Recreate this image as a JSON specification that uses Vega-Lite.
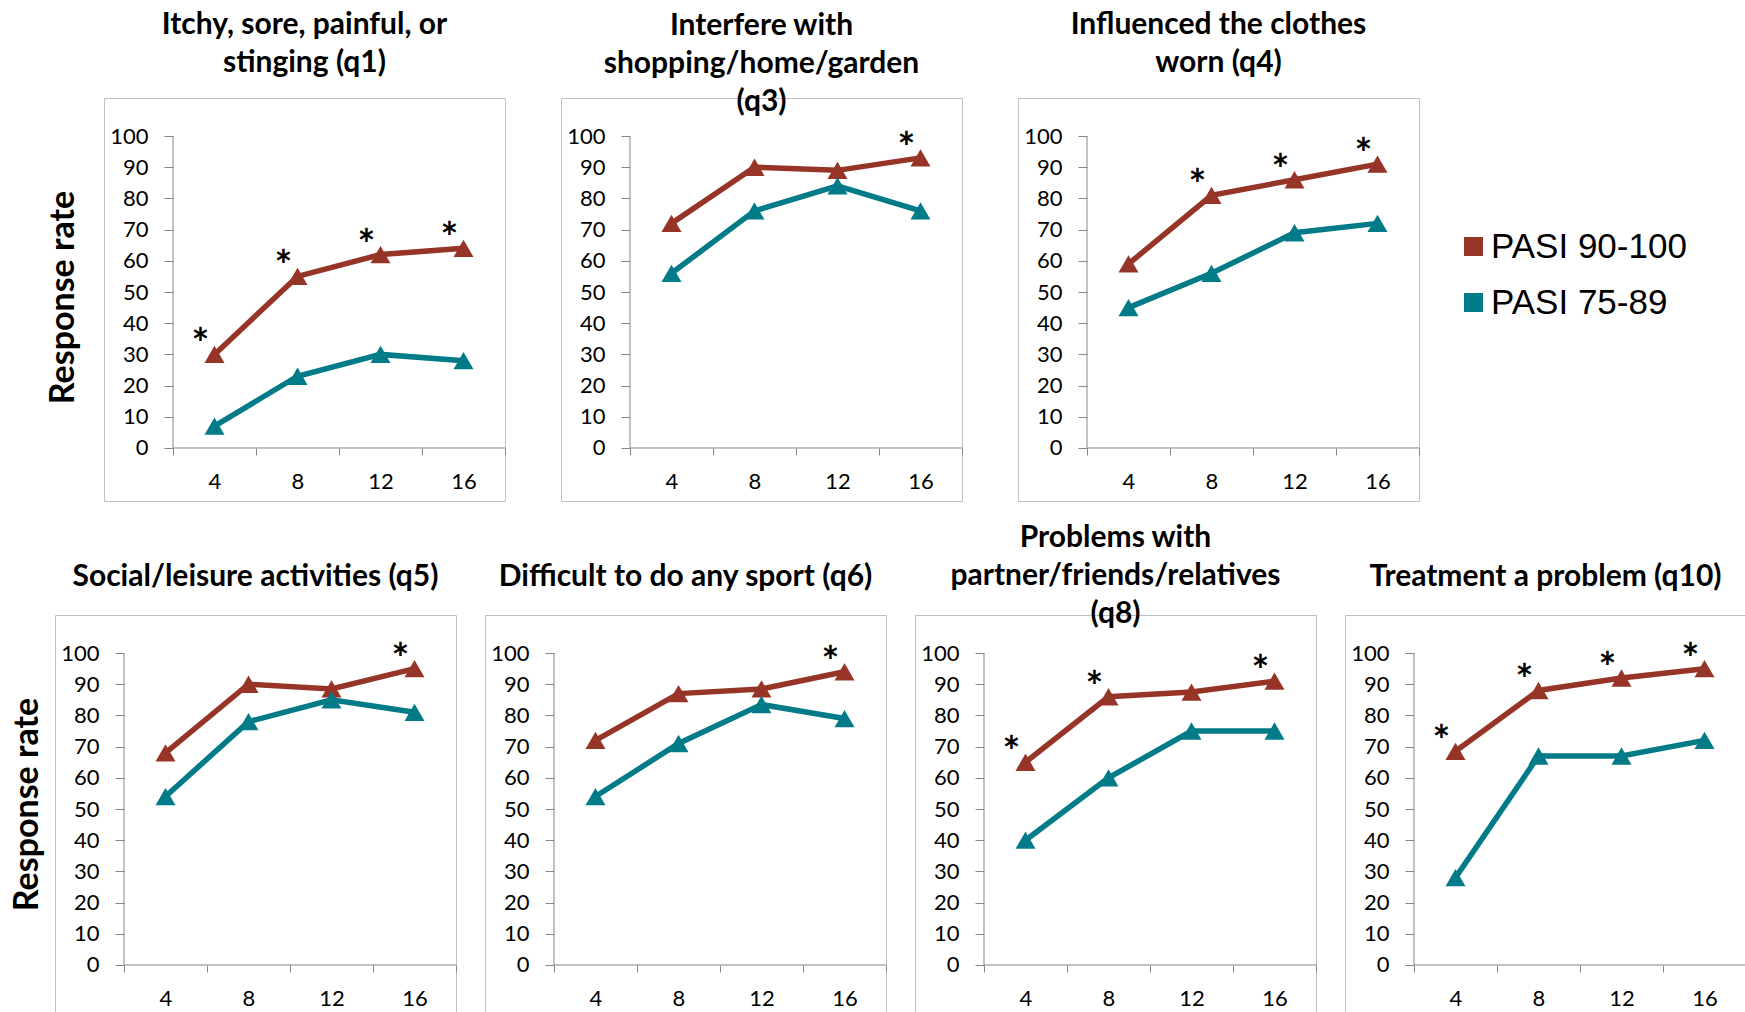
{
  "$schema": "https://vega.github.io/schema/vega-lite/v6.json",
  "padding": {"left": 0, "top": 9, "right": 0, "bottom": 0},
  "autosize": {"type": "pad"},
  "background": "white",
  "config": {
    "view": {"stroke": "#BFBFBF", "strokeWidth": 1},
    "axis": {"domain": false, "grid": false, "tickColor": "#868686", "tickWidth": 1, "labelFont": "Lato", "labelFontSize": 22, "labelColor": "black", "titleFont": "Lato", "titleFontSize": 34, "titleFontWeight": "bold", "titleColor": "black"},
    "axisX": {"offset": -53, "tickSize": 7, "labelPadding": 16},
    "axisY": {"offset": -69, "tickSize": 9, "labelPadding": 16, "titlePadding": 29},
    "title": {"font": "Lato", "fontSize": 30, "fontWeight": "bold", "color": "black", "lineHeight": 38, "frame": "group", "anchor": "middle", "baseline": "alphabetic"}
  },
  "datasets": {
    "d": [
      {"q": "q1", "week": 4, "group": "PASI 90-100", "rate": 30, "sig": true},
      {"q": "q1", "week": 8, "group": "PASI 90-100", "rate": 55, "sig": true},
      {"q": "q1", "week": 12, "group": "PASI 90-100", "rate": 62, "sig": true},
      {"q": "q1", "week": 16, "group": "PASI 90-100", "rate": 64, "sig": true},
      {"q": "q1", "week": 4, "group": "PASI 75-89", "rate": 7, "sig": false},
      {"q": "q1", "week": 8, "group": "PASI 75-89", "rate": 23, "sig": false},
      {"q": "q1", "week": 12, "group": "PASI 75-89", "rate": 30, "sig": false},
      {"q": "q1", "week": 16, "group": "PASI 75-89", "rate": 28, "sig": false},
      {"q": "q3", "week": 4, "group": "PASI 90-100", "rate": 72, "sig": false},
      {"q": "q3", "week": 8, "group": "PASI 90-100", "rate": 90, "sig": false},
      {"q": "q3", "week": 12, "group": "PASI 90-100", "rate": 89, "sig": false},
      {"q": "q3", "week": 16, "group": "PASI 90-100", "rate": 93, "sig": true},
      {"q": "q3", "week": 4, "group": "PASI 75-89", "rate": 56, "sig": false},
      {"q": "q3", "week": 8, "group": "PASI 75-89", "rate": 76, "sig": false},
      {"q": "q3", "week": 12, "group": "PASI 75-89", "rate": 84, "sig": false},
      {"q": "q3", "week": 16, "group": "PASI 75-89", "rate": 76, "sig": false},
      {"q": "q4", "week": 4, "group": "PASI 90-100", "rate": 59, "sig": false},
      {"q": "q4", "week": 8, "group": "PASI 90-100", "rate": 81, "sig": true},
      {"q": "q4", "week": 12, "group": "PASI 90-100", "rate": 86, "sig": true},
      {"q": "q4", "week": 16, "group": "PASI 90-100", "rate": 91, "sig": true},
      {"q": "q4", "week": 4, "group": "PASI 75-89", "rate": 45, "sig": false},
      {"q": "q4", "week": 8, "group": "PASI 75-89", "rate": 56, "sig": false},
      {"q": "q4", "week": 12, "group": "PASI 75-89", "rate": 69, "sig": false},
      {"q": "q4", "week": 16, "group": "PASI 75-89", "rate": 72, "sig": false},
      {"q": "q5", "week": 4, "group": "PASI 90-100", "rate": 68, "sig": false},
      {"q": "q5", "week": 8, "group": "PASI 90-100", "rate": 90, "sig": false},
      {"q": "q5", "week": 12, "group": "PASI 90-100", "rate": 88.5, "sig": false},
      {"q": "q5", "week": 16, "group": "PASI 90-100", "rate": 95, "sig": true},
      {"q": "q5", "week": 4, "group": "PASI 75-89", "rate": 54, "sig": false},
      {"q": "q5", "week": 8, "group": "PASI 75-89", "rate": 78, "sig": false},
      {"q": "q5", "week": 12, "group": "PASI 75-89", "rate": 85, "sig": false},
      {"q": "q5", "week": 16, "group": "PASI 75-89", "rate": 81, "sig": false},
      {"q": "q6", "week": 4, "group": "PASI 90-100", "rate": 72, "sig": false},
      {"q": "q6", "week": 8, "group": "PASI 90-100", "rate": 87, "sig": false},
      {"q": "q6", "week": 12, "group": "PASI 90-100", "rate": 88.5, "sig": false},
      {"q": "q6", "week": 16, "group": "PASI 90-100", "rate": 94, "sig": true},
      {"q": "q6", "week": 4, "group": "PASI 75-89", "rate": 54, "sig": false},
      {"q": "q6", "week": 8, "group": "PASI 75-89", "rate": 71, "sig": false},
      {"q": "q6", "week": 12, "group": "PASI 75-89", "rate": 83.5, "sig": false},
      {"q": "q6", "week": 16, "group": "PASI 75-89", "rate": 79, "sig": false},
      {"q": "q8", "week": 4, "group": "PASI 90-100", "rate": 65, "sig": true},
      {"q": "q8", "week": 8, "group": "PASI 90-100", "rate": 86, "sig": true},
      {"q": "q8", "week": 12, "group": "PASI 90-100", "rate": 87.5, "sig": false},
      {"q": "q8", "week": 16, "group": "PASI 90-100", "rate": 91, "sig": true},
      {"q": "q8", "week": 4, "group": "PASI 75-89", "rate": 40, "sig": false},
      {"q": "q8", "week": 8, "group": "PASI 75-89", "rate": 60, "sig": false},
      {"q": "q8", "week": 12, "group": "PASI 75-89", "rate": 75, "sig": false},
      {"q": "q8", "week": 16, "group": "PASI 75-89", "rate": 75, "sig": false},
      {"q": "q10", "week": 4, "group": "PASI 90-100", "rate": 68.5, "sig": true},
      {"q": "q10", "week": 8, "group": "PASI 90-100", "rate": 88, "sig": true},
      {"q": "q10", "week": 12, "group": "PASI 90-100", "rate": 92, "sig": true},
      {"q": "q10", "week": 16, "group": "PASI 90-100", "rate": 95, "sig": true},
      {"q": "q10", "week": 4, "group": "PASI 75-89", "rate": 28, "sig": false},
      {"q": "q10", "week": 8, "group": "PASI 75-89", "rate": 67, "sig": false},
      {"q": "q10", "week": 12, "group": "PASI 75-89", "rate": 67, "sig": false},
      {"q": "q10", "week": 16, "group": "PASI 75-89", "rate": 72, "sig": false}
    ]
  },
  "resolve": {"legend": {"fill": "independent", "stroke": "independent"}},
  "spacing": 20,
  "vconcat": [
    {
      "bounds": "flush",
      "spacing": 102,
      "resolve": {"legend": {"fill": "independent", "stroke": "independent"}},
      "hconcat": [
        {"width": 1, "height": 403, "view": {"stroke": "white"}, "data": {"values": []}, "mark": "point", "encoding": {}},
        {
          "bounds": "flush",
          "spacing": 56,
          "resolve": {"legend": {"fill": "independent", "stroke": "independent"}},
          "hconcat": [
            {
              "width": 401, "height": 403,
              "title": {"text": ["Itchy, sore, painful, or", "stinging (q1)"], "offset": 20},
              "layer": [
                {"data": {"values": [{}]}, "mark": {"type": "rule", "color": "#868686", "strokeWidth": 1}, "encoding": {"x": {"datum": 2, "type": "quantitative", "scale": {"domain": [-1.325, 18], "nice": false, "zero": false}}, "y": {"datum": 0, "type": "quantitative", "scale": {"domain": [-17, 112.2], "nice": false, "zero": false}}, "y2": {"datum": 100}}},
                {"data": {"values": [{}]}, "mark": {"type": "rule", "color": "#868686", "strokeWidth": 1}, "encoding": {"x": {"datum": 2, "type": "quantitative"}, "x2": {"datum": 18}, "y": {"datum": 0, "type": "quantitative"}}},
                {
                  "data": {"name": "d"},
                  "transform": [{"filter": "datum.q == 'q1'"}],
                  "encoding": {
                    "x": {"field": "week", "type": "quantitative", "axis": {"values": [2, 4, 6, 8, 10, 12, 14, 16, 18], "labelExpr": "datum.value % 4 == 0 ? datum.label : ''", "tickOpacity": {"condition": {"test": "datum.value % 4 == 0", "value": 0}, "value": 1}, "title": null, "labelOverlap": false, "labelFlush": false, "labelBound": false}},
                    "y": {"field": "rate", "type": "quantitative", "axis": {"values": [0, 10, 20, 30, 40, 50, 60, 70, 80, 90, 100], "title": "Response rate", "titleY": 199, "labelOverlap": false}}
                  },
                  "layer": [
                    {"mark": {"type": "line", "strokeWidth": 5.5}, "encoding": {"stroke": {"field": "group", "type": "nominal", "scale": {"domain": ["PASI 90-100", "PASI 75-89"], "range": ["#963527", "#007B87"]}, "legend": null}}},
                    {"mark": {"type": "point", "shape": "triangle-up", "filled": true, "size": 400, "opacity": 1}, "encoding": {"fill": {"field": "group", "type": "nominal", "scale": {"domain": ["PASI 90-100", "PASI 75-89"], "range": ["#963527", "#007B87"]}, "legend": null}}},
                    {"transform": [{"filter": "datum.sig"}], "mark": {"type": "text", "text": "*", "dx": -14, "dy": 5, "fontSize": 42, "fontWeight": "bold", "font": "Lato", "color": "black", "baseline": "alphabetic"}}
                  ]
                }
              ]
            },
            {
              "width": 401, "height": 403,
              "title": {"text": ["Interfere with", "shopping/home/garden", "(q3)"], "offset": -19},
              "layer": [
                {"data": {"values": [{}]}, "mark": {"type": "rule", "color": "#868686", "strokeWidth": 1}, "encoding": {"x": {"datum": 2, "type": "quantitative", "scale": {"domain": [-1.325, 18], "nice": false, "zero": false}}, "y": {"datum": 0, "type": "quantitative", "scale": {"domain": [-17, 112.2], "nice": false, "zero": false}}, "y2": {"datum": 100}}},
                {"data": {"values": [{}]}, "mark": {"type": "rule", "color": "#868686", "strokeWidth": 1}, "encoding": {"x": {"datum": 2, "type": "quantitative"}, "x2": {"datum": 18}, "y": {"datum": 0, "type": "quantitative"}}},
                {
                  "data": {"name": "d"},
                  "transform": [{"filter": "datum.q == 'q3'"}],
                  "encoding": {
                    "x": {"field": "week", "type": "quantitative", "axis": {"values": [2, 4, 6, 8, 10, 12, 14, 16, 18], "labelExpr": "datum.value % 4 == 0 ? datum.label : ''", "tickOpacity": {"condition": {"test": "datum.value % 4 == 0", "value": 0}, "value": 1}, "title": null, "labelOverlap": false, "labelFlush": false, "labelBound": false}},
                    "y": {"field": "rate", "type": "quantitative", "axis": {"values": [0, 10, 20, 30, 40, 50, 60, 70, 80, 90, 100], "title": null, "labelOverlap": false}}
                  },
                  "layer": [
                    {"mark": {"type": "line", "strokeWidth": 5.5}, "encoding": {"stroke": {"field": "group", "type": "nominal", "scale": {"domain": ["PASI 90-100", "PASI 75-89"], "range": ["#963527", "#007B87"]}, "legend": null}}},
                    {"mark": {"type": "point", "shape": "triangle-up", "filled": true, "size": 400, "opacity": 1}, "encoding": {"fill": {"field": "group", "type": "nominal", "scale": {"domain": ["PASI 90-100", "PASI 75-89"], "range": ["#963527", "#007B87"]}, "legend": null}}},
                    {"transform": [{"filter": "datum.sig"}], "mark": {"type": "text", "text": "*", "dx": -14, "dy": 5, "fontSize": 42, "fontWeight": "bold", "font": "Lato", "color": "black", "baseline": "alphabetic"}}
                  ]
                }
              ]
            },
            {
              "width": 401, "height": 403,
              "title": {"text": ["Influenced the clothes", "worn (q4)"], "offset": 20},
              "layer": [
                {"data": {"values": [{}]}, "mark": {"type": "rule", "color": "#868686", "strokeWidth": 1}, "encoding": {"x": {"datum": 2, "type": "quantitative", "scale": {"domain": [-1.325, 18], "nice": false, "zero": false}}, "y": {"datum": 0, "type": "quantitative", "scale": {"domain": [-17, 112.2], "nice": false, "zero": false}}, "y2": {"datum": 100}}},
                {"data": {"values": [{}]}, "mark": {"type": "rule", "color": "#868686", "strokeWidth": 1}, "encoding": {"x": {"datum": 2, "type": "quantitative"}, "x2": {"datum": 18}, "y": {"datum": 0, "type": "quantitative"}}},
                {
                  "data": {"name": "d"},
                  "transform": [{"filter": "datum.q == 'q4'"}],
                  "encoding": {
                    "x": {"field": "week", "type": "quantitative", "axis": {"values": [2, 4, 6, 8, 10, 12, 14, 16, 18], "labelExpr": "datum.value % 4 == 0 ? datum.label : ''", "tickOpacity": {"condition": {"test": "datum.value % 4 == 0", "value": 0}, "value": 1}, "title": null, "labelOverlap": false, "labelFlush": false, "labelBound": false}},
                    "y": {"field": "rate", "type": "quantitative", "axis": {"values": [0, 10, 20, 30, 40, 50, 60, 70, 80, 90, 100], "title": null, "labelOverlap": false}}
                  },
                  "layer": [
                    {"mark": {"type": "line", "strokeWidth": 5.5}, "encoding": {"stroke": {"field": "group", "type": "nominal", "scale": {"domain": ["PASI 90-100", "PASI 75-89"], "range": ["#963527", "#007B87"]}}}},
                    {"mark": {"type": "point", "shape": "triangle-up", "filled": true, "size": 400, "opacity": 1}, "encoding": {"fill": {"field": "group", "type": "nominal", "scale": {"domain": ["PASI 90-100", "PASI 75-89"], "range": ["#963527", "#007B87"]}, "legend": {"title": null, "orient": "none", "legendX": 438, "legendY": 131, "symbolType": "square", "symbolSize": 361, "symbolStrokeWidth": 0, "symbolOpacity": 1, "labelFont": "Liberation Sans", "labelFontSize": 35, "labelColor": "black", "labelLimit": 500, "rowPadding": 20, "labelOffset": 0, "padding": 0}}}},
                    {"transform": [{"filter": "datum.sig"}], "mark": {"type": "text", "text": "*", "dx": -14, "dy": 5, "fontSize": 42, "fontWeight": "bold", "font": "Lato", "color": "black", "baseline": "alphabetic"}}
                  ]
                }
              ]
            }
          ]
        }
      ]
    },
    {
      "bounds": "flush",
      "spacing": 53,
      "resolve": {"legend": {"fill": "independent", "stroke": "independent"}},
      "hconcat": [
        {"width": 1, "height": 403, "view": {"stroke": "white"}, "data": {"values": []}, "mark": "point", "encoding": {}},
        {
          "bounds": "flush",
          "spacing": 29,
          "resolve": {"legend": {"fill": "independent", "stroke": "independent"}},
          "hconcat": [
            {
              "width": 401, "height": 403,
              "title": {"text": "Social/leisure activities (q5)", "offset": 23},
              "layer": [
                {"data": {"values": [{}]}, "mark": {"type": "rule", "color": "#868686", "strokeWidth": 1}, "encoding": {"x": {"datum": 2, "type": "quantitative", "scale": {"domain": [-1.325, 18], "nice": false, "zero": false}}, "y": {"datum": 0, "type": "quantitative", "scale": {"domain": [-17, 112.2], "nice": false, "zero": false}}, "y2": {"datum": 100}}},
                {"data": {"values": [{}]}, "mark": {"type": "rule", "color": "#868686", "strokeWidth": 1}, "encoding": {"x": {"datum": 2, "type": "quantitative"}, "x2": {"datum": 18}, "y": {"datum": 0, "type": "quantitative"}}},
                {
                  "data": {"name": "d"},
                  "transform": [{"filter": "datum.q == 'q5'"}],
                  "encoding": {
                    "x": {"field": "week", "type": "quantitative", "axis": {"values": [2, 4, 6, 8, 10, 12, 14, 16, 18], "labelExpr": "datum.value % 4 == 0 ? datum.label : ''", "tickOpacity": {"condition": {"test": "datum.value % 4 == 0", "value": 0}, "value": 1}, "title": null, "labelOverlap": false, "labelFlush": false, "labelBound": false}},
                    "y": {"field": "rate", "type": "quantitative", "axis": {"values": [0, 10, 20, 30, 40, 50, 60, 70, 80, 90, 100], "title": "Response rate", "titleY": 189, "titlePadding": 16, "labelOverlap": false}}
                  },
                  "layer": [
                    {"mark": {"type": "line", "strokeWidth": 5.5}, "encoding": {"stroke": {"field": "group", "type": "nominal", "scale": {"domain": ["PASI 90-100", "PASI 75-89"], "range": ["#963527", "#007B87"]}, "legend": null}}},
                    {"mark": {"type": "point", "shape": "triangle-up", "filled": true, "size": 400, "opacity": 1}, "encoding": {"fill": {"field": "group", "type": "nominal", "scale": {"domain": ["PASI 90-100", "PASI 75-89"], "range": ["#963527", "#007B87"]}, "legend": null}}},
                    {"transform": [{"filter": "datum.sig"}], "mark": {"type": "text", "text": "*", "dx": -14, "dy": 5, "fontSize": 42, "fontWeight": "bold", "font": "Lato", "color": "black", "baseline": "alphabetic"}}
                  ]
                }
              ]
            },
            {
              "width": 401, "height": 403,
              "title": {"text": "Difficult to do any sport (q6)", "offset": 23},
              "layer": [
                {"data": {"values": [{}]}, "mark": {"type": "rule", "color": "#868686", "strokeWidth": 1}, "encoding": {"x": {"datum": 2, "type": "quantitative", "scale": {"domain": [-1.325, 18], "nice": false, "zero": false}}, "y": {"datum": 0, "type": "quantitative", "scale": {"domain": [-17, 112.2], "nice": false, "zero": false}}, "y2": {"datum": 100}}},
                {"data": {"values": [{}]}, "mark": {"type": "rule", "color": "#868686", "strokeWidth": 1}, "encoding": {"x": {"datum": 2, "type": "quantitative"}, "x2": {"datum": 18}, "y": {"datum": 0, "type": "quantitative"}}},
                {
                  "data": {"name": "d"},
                  "transform": [{"filter": "datum.q == 'q6'"}],
                  "encoding": {
                    "x": {"field": "week", "type": "quantitative", "axis": {"values": [2, 4, 6, 8, 10, 12, 14, 16, 18], "labelExpr": "datum.value % 4 == 0 ? datum.label : ''", "tickOpacity": {"condition": {"test": "datum.value % 4 == 0", "value": 0}, "value": 1}, "title": null, "labelOverlap": false, "labelFlush": false, "labelBound": false}},
                    "y": {"field": "rate", "type": "quantitative", "axis": {"values": [0, 10, 20, 30, 40, 50, 60, 70, 80, 90, 100], "title": null, "labelOverlap": false}}
                  },
                  "layer": [
                    {"mark": {"type": "line", "strokeWidth": 5.5}, "encoding": {"stroke": {"field": "group", "type": "nominal", "scale": {"domain": ["PASI 90-100", "PASI 75-89"], "range": ["#963527", "#007B87"]}, "legend": null}}},
                    {"mark": {"type": "point", "shape": "triangle-up", "filled": true, "size": 400, "opacity": 1}, "encoding": {"fill": {"field": "group", "type": "nominal", "scale": {"domain": ["PASI 90-100", "PASI 75-89"], "range": ["#963527", "#007B87"]}, "legend": null}}},
                    {"transform": [{"filter": "datum.sig"}], "mark": {"type": "text", "text": "*", "dx": -14, "dy": 5, "fontSize": 42, "fontWeight": "bold", "font": "Lato", "color": "black", "baseline": "alphabetic"}}
                  ]
                }
              ]
            },
            {
              "width": 401, "height": 403,
              "title": {"text": ["Problems with", "partner/friends/relatives", "(q8)"], "offset": -14},
              "layer": [
                {"data": {"values": [{}]}, "mark": {"type": "rule", "color": "#868686", "strokeWidth": 1}, "encoding": {"x": {"datum": 2, "type": "quantitative", "scale": {"domain": [-1.325, 18], "nice": false, "zero": false}}, "y": {"datum": 0, "type": "quantitative", "scale": {"domain": [-17, 112.2], "nice": false, "zero": false}}, "y2": {"datum": 100}}},
                {"data": {"values": [{}]}, "mark": {"type": "rule", "color": "#868686", "strokeWidth": 1}, "encoding": {"x": {"datum": 2, "type": "quantitative"}, "x2": {"datum": 18}, "y": {"datum": 0, "type": "quantitative"}}},
                {
                  "data": {"name": "d"},
                  "transform": [{"filter": "datum.q == 'q8'"}],
                  "encoding": {
                    "x": {"field": "week", "type": "quantitative", "axis": {"values": [2, 4, 6, 8, 10, 12, 14, 16, 18], "labelExpr": "datum.value % 4 == 0 ? datum.label : ''", "tickOpacity": {"condition": {"test": "datum.value % 4 == 0", "value": 0}, "value": 1}, "title": null, "labelOverlap": false, "labelFlush": false, "labelBound": false}},
                    "y": {"field": "rate", "type": "quantitative", "axis": {"values": [0, 10, 20, 30, 40, 50, 60, 70, 80, 90, 100], "title": null, "labelOverlap": false}}
                  },
                  "layer": [
                    {"mark": {"type": "line", "strokeWidth": 5.5}, "encoding": {"stroke": {"field": "group", "type": "nominal", "scale": {"domain": ["PASI 90-100", "PASI 75-89"], "range": ["#963527", "#007B87"]}, "legend": null}}},
                    {"mark": {"type": "point", "shape": "triangle-up", "filled": true, "size": 400, "opacity": 1}, "encoding": {"fill": {"field": "group", "type": "nominal", "scale": {"domain": ["PASI 90-100", "PASI 75-89"], "range": ["#963527", "#007B87"]}, "legend": null}}},
                    {"transform": [{"filter": "datum.sig"}], "mark": {"type": "text", "text": "*", "dx": -14, "dy": 5, "fontSize": 42, "fontWeight": "bold", "font": "Lato", "color": "black", "baseline": "alphabetic"}}
                  ]
                }
              ]
            },
            {
              "width": 401, "height": 403,
              "title": {"text": "Treatment a problem (q10)", "offset": 23},
              "layer": [
                {"data": {"values": [{}]}, "mark": {"type": "rule", "color": "#868686", "strokeWidth": 1}, "encoding": {"x": {"datum": 2, "type": "quantitative", "scale": {"domain": [-1.325, 18], "nice": false, "zero": false}}, "y": {"datum": 0, "type": "quantitative", "scale": {"domain": [-17, 112.2], "nice": false, "zero": false}}, "y2": {"datum": 100}}},
                {"data": {"values": [{}]}, "mark": {"type": "rule", "color": "#868686", "strokeWidth": 1}, "encoding": {"x": {"datum": 2, "type": "quantitative"}, "x2": {"datum": 18}, "y": {"datum": 0, "type": "quantitative"}}},
                {
                  "data": {"name": "d"},
                  "transform": [{"filter": "datum.q == 'q10'"}],
                  "encoding": {
                    "x": {"field": "week", "type": "quantitative", "axis": {"values": [2, 4, 6, 8, 10, 12, 14, 16, 18], "labelExpr": "datum.value % 4 == 0 ? datum.label : ''", "tickOpacity": {"condition": {"test": "datum.value % 4 == 0", "value": 0}, "value": 1}, "title": null, "labelOverlap": false, "labelFlush": false, "labelBound": false}},
                    "y": {"field": "rate", "type": "quantitative", "axis": {"values": [0, 10, 20, 30, 40, 50, 60, 70, 80, 90, 100], "title": null, "labelOverlap": false}}
                  },
                  "layer": [
                    {"mark": {"type": "line", "strokeWidth": 5.5}, "encoding": {"stroke": {"field": "group", "type": "nominal", "scale": {"domain": ["PASI 90-100", "PASI 75-89"], "range": ["#963527", "#007B87"]}, "legend": null}}},
                    {"mark": {"type": "point", "shape": "triangle-up", "filled": true, "size": 400, "opacity": 1}, "encoding": {"fill": {"field": "group", "type": "nominal", "scale": {"domain": ["PASI 90-100", "PASI 75-89"], "range": ["#963527", "#007B87"]}, "legend": null}}},
                    {"transform": [{"filter": "datum.sig"}], "mark": {"type": "text", "text": "*", "dx": -14, "dy": 5, "fontSize": 42, "fontWeight": "bold", "font": "Lato", "color": "black", "baseline": "alphabetic"}}
                  ]
                }
              ]
            }
          ]
        }
      ]
    }
  ]
}
